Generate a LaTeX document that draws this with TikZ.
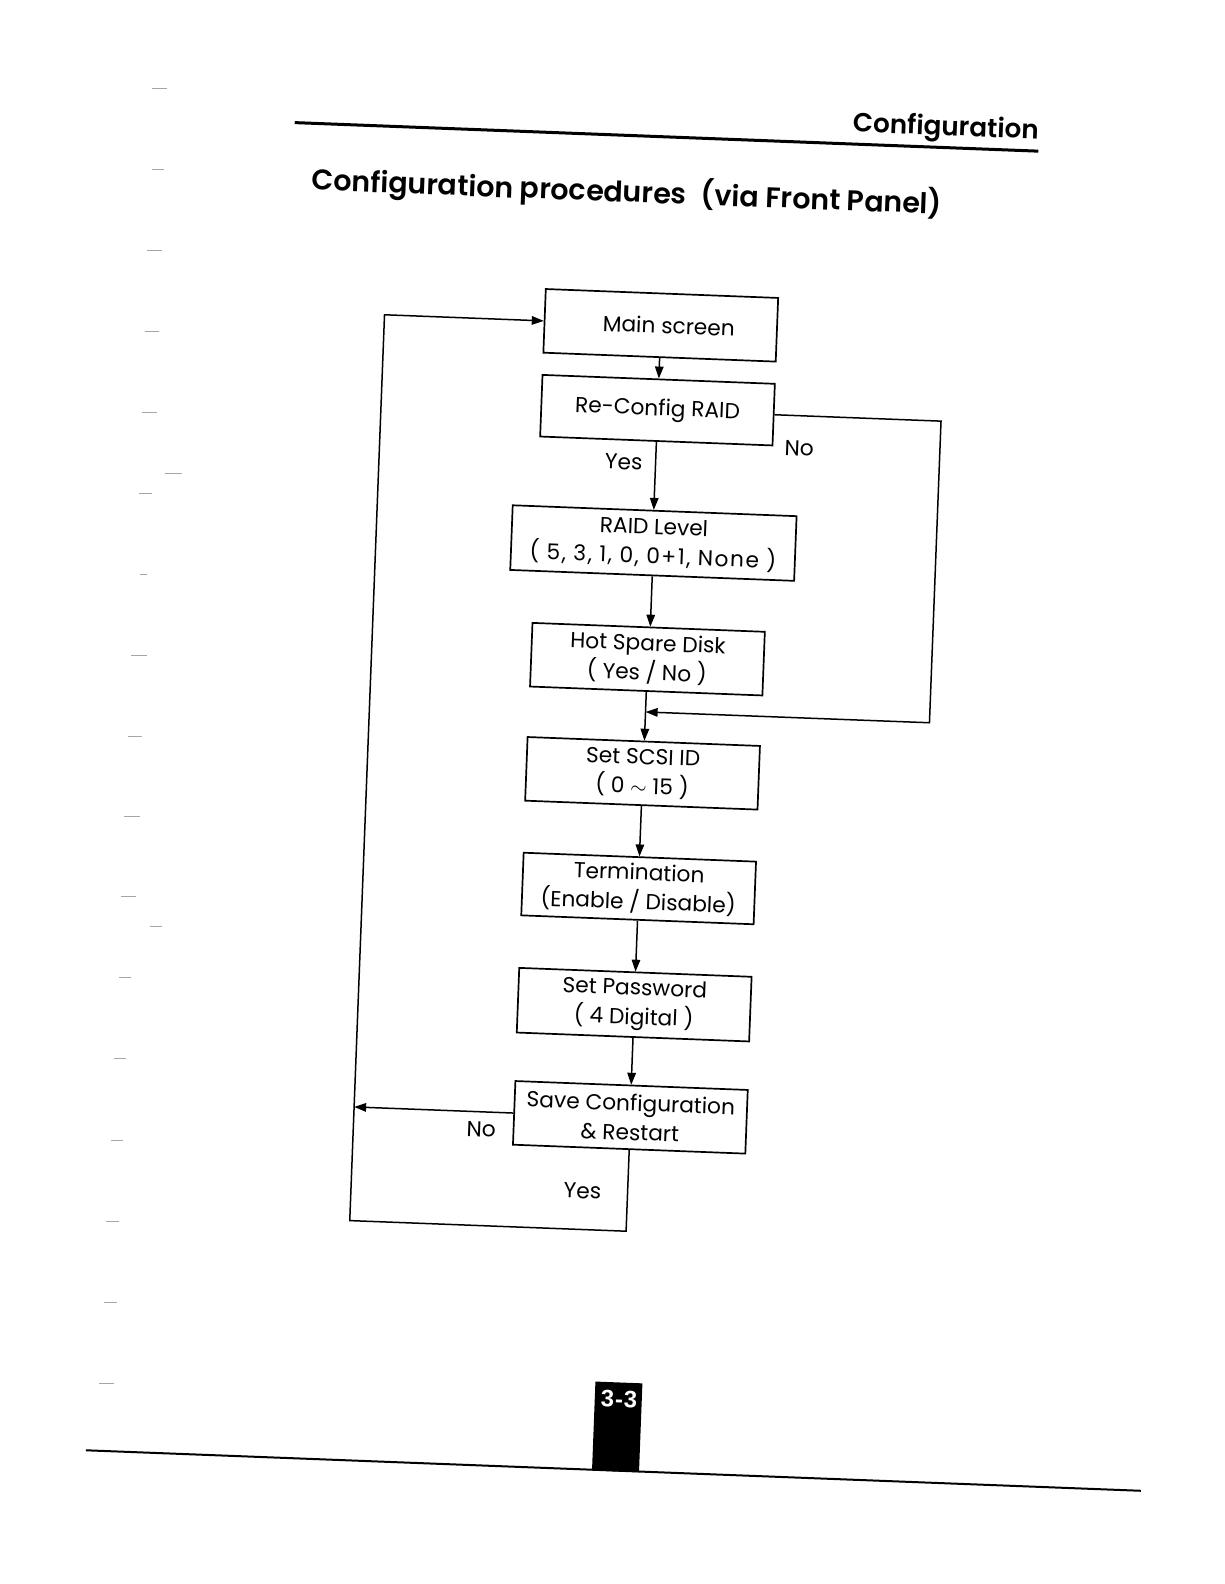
\documentclass[tikz,border=0pt]{standalone}
\usepackage{fontspec}
\setmainfont{Poppins}
\newfontfamily\pgfont{Liberation Sans}
\IfFontExistsTF{Poppins SemiBold}{\newfontfamily\headfont{Poppins SemiBold}}{\newfontfamily\headfont{Poppins}[UprightFont=*-Bold]}
\usetikzlibrary{arrows.meta}
\begin{document}
\begin{tikzpicture}[x=1pt,y=-1pt,
  box/.style={draw, line width=1.7pt, minimum width=230pt, minimum height=63pt,
    inner sep=0pt, align=center, font=\fontsize{21.5}{29}\selectfont, transform shape},
  conn/.style={line width=1.5pt},
  arr/.style={conn, -{Triangle[length=12pt,width=8.5pt]}},
  lbl/.style={font=\fontsize{21.5}{26}\selectfont, inner sep=0pt, transform shape},
  marginmark/.style={gray!70, line width=0.9pt}
  ]
\useasboundingbox (0,0) rectangle (1224,1584);
\fill[white] (0,0) rectangle (1224,1584);
\begin{scope}[scale=1.011]
% margin marks
\foreach \xa/\xb/\yy in {150/165/87,150/162/168,145/160/248,143/157/328,140/155/408,163/180/468,137/150/488,138/145/568,130/145/648,127/140/728,123/138/808,120/135/887,148/160/916,118/130/967,113/125/1047,110/122/1128,105/118/1208,103/116/1288,98/113/1368}
  \draw[marginmark] (\xa,\yy) -- (\xb,\yy);
\begin{scope}[rotate around={-2.2:(612,792)}]
  % header
  \coordinate (hl) at (266,134);
  \coordinate (hr) at (1002,134);
  \draw[line width=3pt] (hl) -- (hr);
  \node[anchor=base east, inner sep=0pt, transform shape, font=\headfont\fontsize{26}{28}\selectfont] (hdr) at (1002,122) {Configuration};
  \node[anchor=base west, inner sep=0pt, transform shape, font=\headfont\fontsize{28.2}{30}\selectfont] (title) at (285,200) {Configuration procedures\hspace{14pt}(via Front Panel)};
  % boxes
  \node[box] (main) at (635.5,320.5) {\hspace*{16pt}Main screen};
  \node[box, minimum height=61pt] (reconf) at (635.5,404.5) {Re-Config RAID};
  \node[box, minimum width=281pt, minimum height=64pt] (raid) at (636.5,536) {RAID Level\\{\addfontfeature{LetterSpace=7}( 5, 3, 1, 0, 0+1, None )}};
  \node[box] (hot) at (635,651) {Hot Spare Disk\\( Yes / No )};
  \node[box] (scsi) at (634.5,764) {Set SCSI ID\\( 0 $\sim$ 15 )};
  \node[box, minimum height=62pt] (term) at (635,878) {Termination\\(Enable / Disable)};
  \node[box, minimum height=64pt] (pwd) at (635,993) {Set Password\\( 4 Digital )};
  \node[box] (save) at (635.5,1104.5) {Save Configuration\\\& Restart};
  % connectors
  \draw[arr] (main.south) -- (main.south |- reconf.north);
  \draw[arr] (reconf.south) -- (reconf.south |- raid.north);
  \draw[arr] (raid.south) -- (raid.south |- hot.north);
  \draw[arr] (hot.south) -- (hot.south |- scsi.north);
  \draw[arr] (scsi.south) -- (scsi.south |- term.north);
  \draw[arr] (term.south) -- (term.south |- pwd.north);
  \draw[arr] (pwd.south) -- (pwd.south |- save.north);
  \coordinate (nr) at (916,703);
  \coordinate (jn) at (hot.south |- nr);
  \draw[arr] (reconf.east) -| (nr) -- (jn);
  \coordinate (sl) at (362,1104.5);
  \draw[arr] (save.west) -- (save.west -| sl);
  \coordinate (bl) at (362,1217);
  \draw[arr] (save.south) |- (bl) |- (main.west);
  % labels
  \node[lbl] (yes1) at (604,457) {Yes};
  \node[lbl] (no1) at (777,437) {No};
  \node[lbl] (no2) at (488.5,1122) {No};
  \node[lbl] (yes2) at (591,1179) {Yes};
  % page number
  \coordinate (pgl) at (110,1454);
  \coordinate (pgr) at (1154,1454);
  \draw[line width=2pt] (pgl) -- (pgr);
  \fill (611,1367) rectangle (657.5,1455);
  \node[text=white, inner sep=0pt, transform shape, font=\pgfont\bfseries\fontsize{23.5}{26}\selectfont] (pgn) at (635,1383.5) {3\kern1pt-\kern1pt3};
\end{scope}
\end{scope}
\end{tikzpicture}
\end{document}
